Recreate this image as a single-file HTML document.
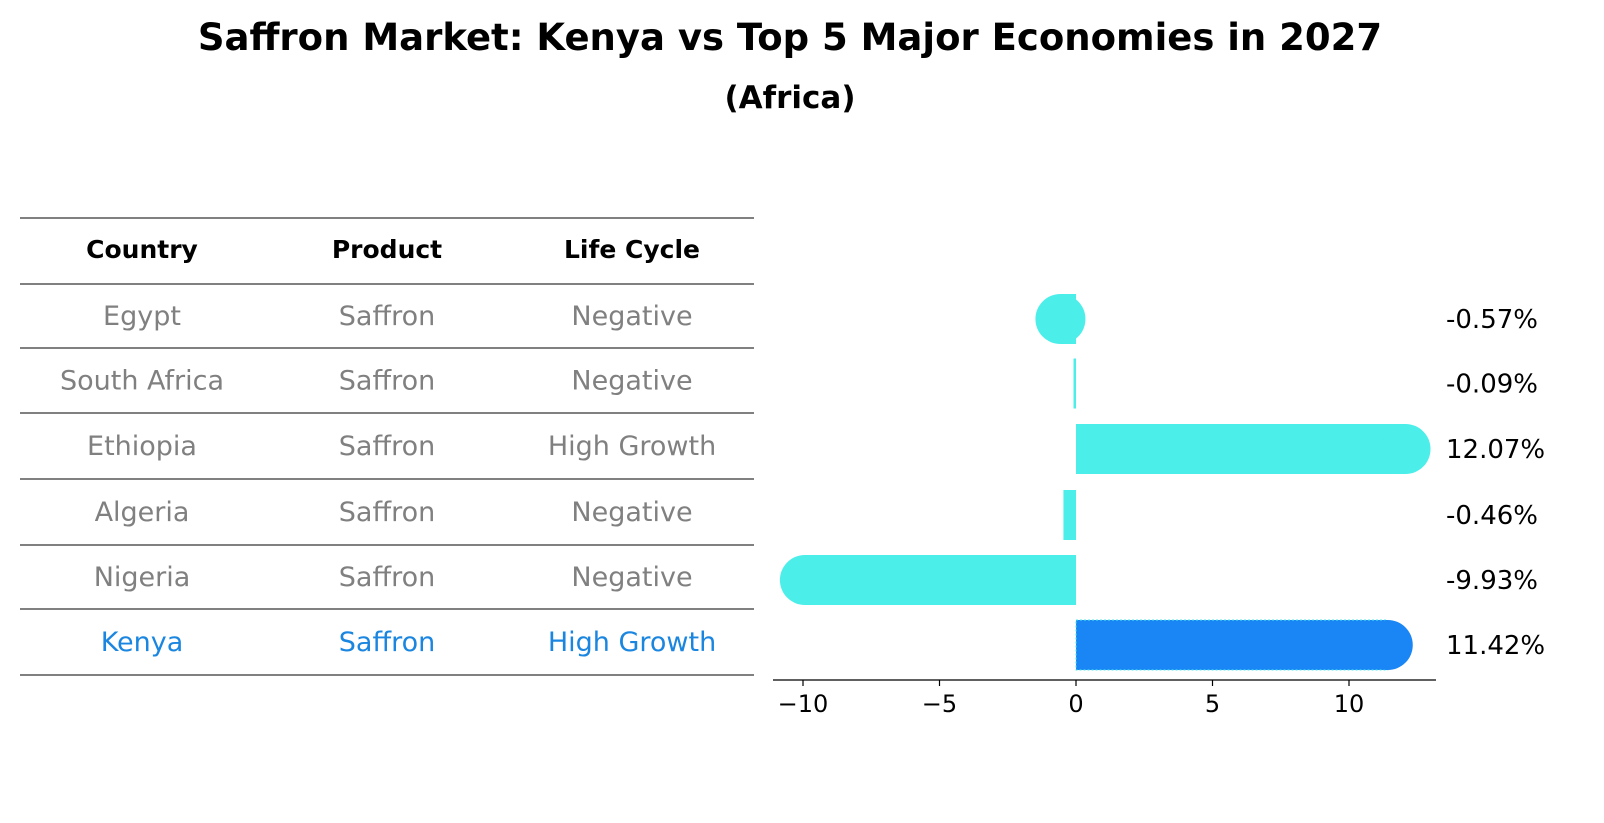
<!DOCTYPE html>
<html><head><meta charset="utf-8"><style>
body{margin:0;background:#fff;font-family:"Liberation Sans","DejaVu Sans",sans-serif;}
#wrap{position:relative;width:1604px;height:823px;overflow:hidden}
</style></head><body>
<div id="wrap">
<svg id="svg" width="1604" height="823" font-family="'DejaVu Sans','Liberation Sans',sans-serif">
<text x="790" y="50" text-anchor="middle" font-size="37" font-weight="bold">Saffron Market: Kenya vs Top 5 Major Economies in 2027</text>
<text x="790" y="108" text-anchor="middle" font-size="31" font-weight="bold">(Africa)</text>
<g id="table"></g>
<g id="bars"></g>
</svg>
</div>
<script>
const countries=["Egypt","South Africa","Ethiopia","Algeria","Nigeria","Kenya"];
const products=["Saffron","Saffron","Saffron","Saffron","Saffron","Saffron"];
const lifeCycle=["Negative","Negative","High Growth","Negative","Negative","High Growth"];
const values=[-0.57,-0.09,12.07,-0.46,-9.93,11.42];
const valueLabels=["-0.57%","-0.09%","12.07%","-0.46%","-9.93%","11.42%"];
const xTicks=[-10,-5,0,5,10];
const tickLabels=["\u221210","\u22125","0","5","10"];

const NS="http://www.w3.org/2000/svg";
function mk(tag,attrs,parent,txt){const e=document.createElementNS(NS,tag);for(const k in attrs)e.setAttribute(k,attrs[k]);if(txt!==undefined)e.textContent=txt;parent.appendChild(e);return e;}
const tbl=document.getElementById('table');
const bars=document.getElementById('bars');
const lineYs=[218,284,348,413,479,545,609,675];
const colX=[142,387,632];
lineYs.forEach((y,i)=>{const l=mk('line',{x1:20,x2:754,y1:y,y2:y,stroke:'#000','stroke-width':1},tbl);

});
["Country","Product","Life Cycle"].forEach((h,i)=>{const t=mk('text',{x:colX[i],y:258,'text-anchor':'middle','font-size':25,'font-weight':'bold'},tbl,h);

});
countries.forEach((c,r)=>{const y=(lineYs[r+1]+lineYs[r+2])/2+9;const col=r===countries.length-1?'#1a86e0':'#808080';
[c,products[r],lifeCycle[r]].forEach((v,i)=>{const t=mk('text',{x:colX[i],y:y,'text-anchor':'middle','font-size':27,fill:col},tbl,v);

});});

const x0=1076,ppu=27.3;
const xs=v=>x0+v*ppu;
const rowY=r=>(lineYs[r+1]+lineYs[r+2])/2+3;
const h=50,rad=25;
values.forEach((v,r)=>{const cy=rowY(r);const last=r===values.length-1;const fill=last?'#1a86f5':'#4beee9';
const a=Math.min(xs(0),xs(v)),b=Math.max(xs(0),xs(v));
const rc=mk('rect',{x:a,y:cy-h/2,width:Math.max(b-a,1.5),height:h,fill:fill},bars);


if(last){rc.setAttribute('stroke','#4beee9');rc.setAttribute('stroke-dasharray','2,2');}
if(Math.abs(v)>0.5){const ci=mk('circle',{cx:xs(v),cy:cy,r:rad,fill:fill},bars);

}
const t=mk('text',{x:1446,y:cy+9,'font-size':26},bars,valueLabels[r]);

});
const ax=mk('line',{x1:773,x2:1436,y1:680,y2:680,stroke:'#000','stroke-width':1.3},bars);


xTicks.forEach((tv,i)=>{const tk=mk('line',{x1:xs(tv),x2:xs(tv),y1:680,y2:686,stroke:'#000','stroke-width':1.2},bars);


const t=mk('text',{x:xs(tv),y:712,'text-anchor':'middle','font-size':24},bars,tickLabels[i]);

});
</script>
</body></html>
